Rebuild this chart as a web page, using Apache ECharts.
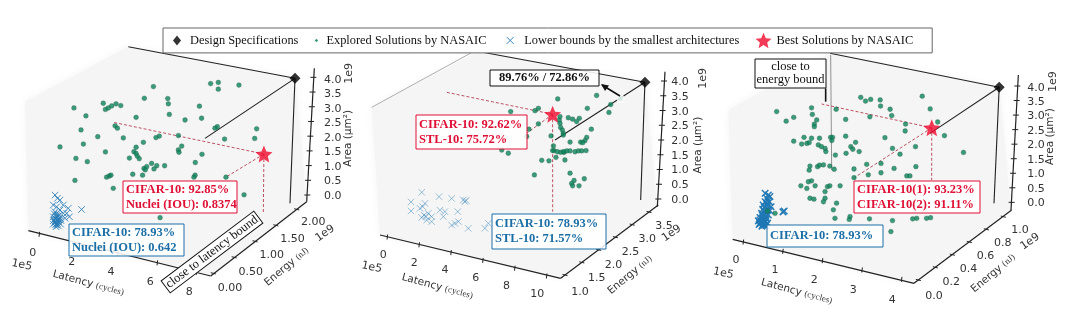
<!DOCTYPE html>
<html><head><meta charset="utf-8">
<script src="https://cdn.jsdelivr.net/npm/echarts@6/dist/echarts.min.js"></script>
<style>html,body{margin:0;padding:0;background:#fff}#c{width:1080px;height:314px;filter:blur(.4px)}</style>
</head><body><div id="c"></div>
<script>
// Values are [latency, area] as seen in the view plane of each 3-D plot (latency 1e5 cycles, area 1e9 um2)
const latencyTicksA=[0,2,4,6,8], energyTicksA=['0.00','0.50','1.00','1.50','2.00'];
const latencyTicksB=[0,2,4,6,8,10], energyTicksB=['1.0','1.5','2.0','2.5','3.0','3.5'];
const latencyTicksC=[0,1,2,3,4], energyTicksC=['0.0','0.2','0.4','0.6','0.8','1.0'];
const areaTicks=['0.0','0.5','1.0','1.5','2.0','2.5','3.0','3.5','4.0'];

const specA=[[13.0,4.0]], specB=[[16.10,3.98]], specC=[[6.45,3.97]];
const bestA=[[11.42,1.42]], bestB=[[10.33,2.89]], bestC=[[4.75,2.57]];

const exploredA=[[1.76,2.99],[2.37,2.72],[2.12,2.24],[1.05,1.66],[1.86,1.27],[2.44,1.16],[2.24,1.76],[2.97,2.01],[3.36,1.49],[1.81,.52],[3.25,3.15],[3.36,2.94],[3.51,2.99],[3.68,3.06],[3.90,3.13],[4.14,3.07],[3.85,2.38],[3.97,2.30],[4.27,1.97],[4.92,2.67],[5.80,3.72],[5.34,3.32],[6.53,3.31],[6.56,3.13],[6.61,2.77],[7.41,2.58],[8.14,3.05],[8.25,2.64],[8.71,3.82],[9.10,3.86],[9.10,3.63],[10.15,3.77],[9.05,2.35],[8.93,2.30],[11.05,2.28],[10.95,1.95],[9.42,1.93],[7.07,2.05],[6.10,2.03],[5.93,1.98],[5.29,1.82],[4.92,1.65],[7.24,1.69],[7.07,1.56],[7.10,1.48],[8.27,1.41],[7.93,1.13],[4.81,1.50],[4.92,1.44],[4.98,1.35],[4.58,1.28],[5.08,1.26],[5.71,1.10],[5.97,1.02],[5.32,.93],[5.46,.99],[6.37,1.02],[5.83,.91],[4.75,.73],[5.25,.70],[5.39,.88],[3.42,.63],[3.56,.67],[3.64,.70],[3.76,.25],[7.92,.70],[7.86,.63],[9.49,.63],[10.41,.03],[6.14,-.75]];
const lowerA=[[.80,.02],[.92,-.09],[1.05,-.15],[1.22,-.32],[1.47,-.43],[.71,-.32],[.88,-.38],[1.05,-.49],[.80,-.55],[1.22,-.60],[1.39,-.60],[.71,-.72],[.88,-.72],[1.05,-.77],[1.31,-.77],[.80,-.89],[.97,-.89],[.71,-.97],[.88,-1.0],[1.08,-.97],[2.15,-.47],[.75,-.83],[.92,-.81],[.85,-1.06],[1.02,-.66],[1.53,-.72],[.78,-.92],[.85,-.85],[.92,-.95],[.99,-.82],[.82,-.78],[.90,-.65],[.76,-.62],[.95,-.70],[1.1,-.85],[.72,-.85],[.83,-.98],[.95,-1.02]];

const exploredB=[[10.65,3.41],[13.08,3.53],[13.96,3.22],[12.5,3.09],[13.85,2.95],[9.44,3.09],[9.23,3.01],[7.71,2.98],[10.79,2.81],[10.75,2.69],[11.31,2.77],[11.58,2.72],[12.0,2.75],[11.83,2.64],[10.79,2.58],[10.83,2.44],[10.94,2.35],[11.0,2.24],[12.75,2.38],[9.44,2.56],[8.85,2.38],[8.71,2.13],[10.23,2.15],[11.0,2.18],[11.42,1.94],[12.08,1.94],[12.46,2.10],[12.35,1.99],[12.21,1.92],[10.42,1.65],[10.63,1.61],[10.83,1.59],[11.04,1.59],[11.21,1.64],[11.42,1.64],[11.73,1.61],[11.94,1.64],[12.15,1.64],[12.42,1.65],[10.38,1.81],[10.33,1.65],[7.56,1.56],[7.15,1.67],[9.65,1.32],[10.10,1.30],[10.54,1.42],[11.10,1.33],[9.19,.82],[11.42,.88],[12.31,.69],[11.67,.63],[11.52,.53],[11.58,.45],[11.98,.45],[14.58,3.42],[11.0,1.61]];
const lowerB=[[2.15,.23],[3.23,.08],[1.48,-.10],[2.35,-.15],[2.21,-.26],[1.48,-.41],[2.29,-.55],[2.56,-.49],[2.77,-.60],[2.15,-.63],[2.46,-.72],[2.77,-.77],[3.29,-.38],[3.60,-.43],[3.50,-.60],[4.40,-.43],[4.02,.02],[4.75,-.03],[4.85,-.09],[4.02,-.89],[4.23,-.83],[4.44,-.77],[5.06,-1.0],[6.10,-1.0],[6.31,-.83],[2.04,-.32],[4.92,-.05],[2.42,-.60]];
const markedB=[[14.58,3.42]];

const exploredC=[[.84,3.13],[1.08,2.80],[1.27,2.93],[1.72,3.26],[1.74,3.03],[1.85,2.84],[1.79,2.70],[1.79,2.61],[2.34,3.21],[2.58,2.86],[2.96,3.62],[3.08,3.49],[3.21,3.55],[3.45,3.53],[3.46,3.32],[3.19,2.95],[3.70,3.21],[3.74,2.99],[4.09,2.70],[4.08,2.46],[4.51,3.66],[4.71,3.22],[4.90,2.77],[5.07,2.30],[5.55,1.72],[1.27,2.11],[1.47,2.01],[1.53,2.24],[1.60,2.03],[1.66,2.06],[1.72,2.21],[1.92,2.21],[1.89,1.98],[1.97,1.92],[2.06,1.86],[2.08,1.75],[2.20,2.24],[2.25,2.24],[2.23,2.13],[2.58,2.28],[2.83,2.07],[2.71,1.92],[2.76,1.83],[2.59,1.69],[2.92,1.75],[3.57,2.23],[3.76,1.86],[3.95,1.66],[4.34,1.92],[2.32,1.63],[1.68,1.25],[1.66,1.11],[1.87,1.23],[1.92,1.28],[2.02,1.29],[2.18,1.25],[2.29,1.14],[2.79,1.15],[3.11,1.31],[3.47,1.34],[3.47,1.02],[3.80,1.17],[4.35,1.23],[2.79,.85],[3.15,.95],[4.12,.91],[4.20,.91],[1.64,.71],[1.72,.74],[1.45,.57],[1.60,.48],[1.81,.57],[2.12,.54],[2.18,.57],[2.44,.57],[2.06,.37],[1.68,.14],[1.78,.11],[2.06,.14],[2.02,.02],[2.35,-.03],[2.27,-.26],[2.31,-.55],[2.69,-.49],[2.67,-.59],[3.18,-.57],[3.76,-.63],[4.27,-.57],[4.37,-.55],[4.62,-.55],[4.72,-.53],[3.72,-1.01],[.80,-.38],[.61,-.30]];
const lowerC=[[.63,.25],[.59,.14],[.67,.20],[.55,.02],[.66,.02],[.50,-.09],[.61,-.13],[.70,-.15],[.49,-.24],[.59,-.26],[.67,-.29],[.46,-.38],[.55,-.40],[.63,-.44],[.42,-.52],[.50,-.55],[.59,-.57],[.38,-.64],[.46,-.67],[.55,-.69],[.61,-.72],[.40,-.76],[.49,-.78],[.57,-.80],[1.03,-.30],[.55,.31],[.42,-.61],[.50,-.72],[.44,-.70],[.52,-.62],[.57,-.48],[.48,-.45],[.53,-.30],[.60,-.05],[.53,-.18],[.42,-.72],[.47,-.82],[.53,-.78],[1.0,-.33],[.62,.05]];

const NAMES={spec:'Design Specifications',exp:'Explored Solutions by NASAIC',low:'Lower bounds by the smallest architectures',best:'Best Solutions by NASAIC'};
const GREEN='#0b8459',BLUE='#1f77b4',RED='#f00a2e',BLUEBOX='#1c6fa6',REDBOX='#e00f35';
const SERIF='"Liberation Serif"',SANS='"DejaVu Sans"';
const STAR='path://M10 0L12.9 6.9L20 7.6L14.6 12.2L16.2 19.5L10 15.5L3.8 19.5L5.4 12.2L0 7.6L7.1 6.9Z';
const CROSS='path://M0 0L10 10M10 0L0 10';

// layout: all furniture coordinates below are in the panel's local units (3 per screen pixel; top at y=20)
const panels=[
 {off:0,zx0:118,k:59,zy0:527,ky:88,spec:specA,best:bestA,explored:exploredA,lower:lowerA,lowerAlpha:.8,crossW:1.0,
  hex:[[85,632],[75,245],[385,80],[885,175],[920,545],[632,768]],
  spine:[[385,80],[615,355],[870,550]],dash:[[340,307],[680,470],[790,578]],
  latT:latencyTicksA,latFrom:[118,643],latTo:[590,757],latLFrom:[98,698],latLTo:[568,815],latLine:[[85,632],[632,768]],
  enT:energyTicksA,enFrom:[640,760],enTo:[890,568],enLFrom:[690,805],enLTo:[940,607],enLine:[[632,768],[920,545]],
  arFrom:[922,525],arTo:[940,172],arLFrom:[998,528],arLTo:[998,180],arLine:[[920,545],[943,145]],
  e5:[65,735],e9a:[1048,160],e9e:[975,640],titleL:[265,790],titleE:[860,740],titleA:[1045,355]},
 {off:350,zx0:112,k:48,zy0:537,ky:88,spec:specB,best:bestB,explored:exploredB,lower:lowerB,lowerAlpha:.55,crossW:.8,
  hex:[[90,645],[65,262],[385,95],[885,187],[922,560],[632,775]],
  spine:[[390,95],[615,360],[872,540]],dash:[[290,217],[530,340],[608,575]],
  latT:latencyTicksB,latFrom:[112,651],latTo:[590,768],latLFrom:[100,705],latLTo:[562,822],latLine:[[90,645],[632,775]],
  enT:energyTicksB,enFrom:[645,765],enTo:[897,576],enLFrom:[690,815],enLTo:[942,618],enLine:[[632,775],[925,555]],
  arFrom:[925,537],arTo:[942,183],arLFrom:[990,540],arLTo:[990,187],arLine:[[922,560],[945,155]],
  e5:[65,742],e9a:[1060,175],e9e:[965,640],titleL:[262,800],titleE:[840,765],titleA:[1045,375],
  edge:[[65,262],[370,95]]},
 {off:710,zx0:100,k:119,zy0:547,ky:87,spec:specC,best:bestC,explored:exploredC,lower:lowerC,lowerAlpha:.95,crossW:1.5,
  hex:[[68,658],[55,270],[360,100],[868,202],[903,570],[612,790]],
  spine:[[360,100],[660,340],[852,550]],dash:[[335,252],[430,475],[665,480]],
  latT:latencyTicksC,latFrom:[100,666],latTo:[575,778],latLFrom:[78,720],latLTo:[547,840],latLine:[[68,658],[612,790]],
  enT:energyTicksC,enFrom:[625,780],enTo:[880,590],enLFrom:[672,827],enLTo:[930,630],enLine:[[612,790],[905,570]],
  arFrom:[905,547],arTo:[922,198],arLFrom:[978,550],arLTo:[978,203],arLine:[[903,570],[925,165]],
  e5:[40,760],e9a:[1030,185],e9e:[960,665],titleL:[260,815],titleE:[850,760],titleA:[1020,350],
  edge2:[[362,105],[365,450]],stub:[[347,205],[347,245]]}
];
// annotation boxes in screen units
const notes=[
 {rect:[123,181,114,32],color:REDBOX,lines:['CIFAR-10: 92.85%','Nuclei (IOU): 0.8374']},
 {rect:[69,224,115,32],color:BLUEBOX,lines:['CIFAR-10: 78.93%','Nuclei (IOU): 0.642']},
 {rect:[416,115,111,34],color:REDBOX,lines:['CIFAR-10: 92.62%','STL-10: 75.72%']},
 {rect:[492,214,114,35],color:BLUEBOX,lines:['CIFAR-10: 78.93%','STL-10: 71.57%']},
 {rect:[490,70,109,16],color:'#111',lines:['89.76% / 72.86%'],center:true},
 {rect:[854,181,126,32],color:REDBOX,lines:['CIFAR-10(1): 93.23%','CIFAR-10(2): 91.11%']},
 {rect:[767,225,116,22],color:BLUEBOX,lines:['CIFAR-10: 78.93%']},
 {rect:[755,59,71,29],color:'#111',lines:['close to','energy bound'],center:true,plain:true}
];

const P=(p,z)=>[p.off+z[0]/3,20+z[1]/3];
const lerp=(a,b,t)=>[a[0]+(b[0]-a[0])*t,a[1]+(b[1]-a[1])*t];
const seg=(a,b,stroke,w,dash)=>({type:'line',shape:{x1:a[0],y1:a[1],x2:b[0],y2:b[1]},style:{stroke,lineWidth:w,lineDash:dash||null}});
const txt=(p,s,font,fill,rot,align)=>({type:'text',x:p[0],y:p[1],rotation:(rot||0)*Math.PI/180,style:{text:s,font,fill,align:align||'center',verticalAlign:'middle'}});
const dataPx=(p,v)=>P(p,[p.zx0+p.k*v[0],p.zy0-p.ky*v[1]]);

function furniture(p){
 const c=[];
 c.push({type:'polygon',shape:{points:p.hex.map(z=>P(p,z))},style:{fill:'#f5f5f5',shadowBlur:10,shadowColor:'#f5f5f5'}});
 const tickFont='11px '+SANS,tc='#333';
 const axisGroup=(line,from,to,lf,lt,labels,dir)=>{
  c.push(seg(P(p,line[0]),P(p,line[1]),'#222',1.2));
  labels.forEach((s,i)=>{const t=i/(labels.length-1);
    const a=P(p,lerp(from,to,t));
    c.push(seg([a[0]-dir[0],a[1]-dir[1]],[a[0]+dir[0],a[1]+dir[1]],'#222',1));
    c.push(txt(P(p,lerp(lf,lt,t)),String(s),tickFont,tc));});
 };
 axisGroup(p.latLine,p.latFrom,p.latTo,p.latLFrom,p.latLTo,p.latT,[-.3,2.5]);
 axisGroup(p.enLine,p.enFrom,p.enTo,p.enLFrom,p.enLTo,p.enT,[2.5,.6]);
 axisGroup(p.arLine,p.arFrom,p.arTo,p.arLFrom,p.arLTo,areaTicks,[3,0]);
 // black specification guide lines, from the design specification point
 const s=dataPx(p,p.spec[0]);
 p.spine.forEach(z=>c.push(seg(s,P(p,z),'#222',1.1)));
 if(p.edge)c.push(seg(P(p,p.edge[0]),P(p,p.edge[1]),'#999',.8));
 if(p.edge2)c.push(seg(P(p,p.edge2[0]),P(p,p.edge2[1]),'#777',.8));
 if(p.stub)c.push(seg(P(p,p.stub[0]),P(p,p.stub[1]),'#111',1.6));
 // red dashed drop lines, from the best solution
 const b=dataPx(p,p.best[0]);
 p.dash.forEach(z=>c.push(seg(b,P(p,z),'#b5404f',.9,[3,2])));
 c.push(txt(P(p,p.e5),'1e5',tickFont,tc,-12));
 c.push(txt(P(p,p.e9a),'1e9',tickFont,tc,90));
 c.push(txt(P(p,p.e9e),'1e9',tickFont,tc,35));
 c.push({type:'text',x:P(p,p.titleL)[0],y:P(p,p.titleL)[1],rotation:-15*Math.PI/180,style:{text:'{a|Latency} {b|(cycles)}',align:'center',verticalAlign:'middle',rich:{a:{font:'10.5px '+SANS,fill:'#333'},b:{font:'9px '+SERIF,fill:'#333'}}}});
 c.push({type:'text',x:P(p,p.titleE)[0],y:P(p,p.titleE)[1],rotation:40*Math.PI/180,style:{text:'{a|Energy} {b|(nJ)}',align:'center',verticalAlign:'middle',rich:{a:{font:'10.5px '+SANS,fill:'#333'},b:{font:'9px '+SERIF,fill:'#333'}}}});
 c.push(txt(P(p,p.titleA),'Area (\u03bcm\u00b2)','10.5px '+SANS,'#333',90));
 return {type:'group',children:c};
}
function noteShapes(){
 const c=[];
 notes.forEach(n=>{const [x,y,w,h]=n.rect;
  c.push({type:'rect',shape:{x,y,width:w,height:h},style:{fill:'rgba(255,255,255,.88)',stroke:n.color,lineWidth:1}});
  const lh=n.plain?13:15,y0=y+h/2-(n.lines.length-1)*lh/2;
  n.lines.forEach((l,i)=>c.push({type:'text',x:n.center?x+w/2:x+3,y:y0+i*lh,style:{text:l,font:(n.plain?'':'bold ')+'12.5px '+SERIF,fill:n.color,align:n.center?'center':'left',verticalAlign:'middle'}}));
 });
 // rotated "close to latency bound" tag
 c.push({type:'group',x:212,y:252,rotation:37*Math.PI/180,children:[
  {type:'rect',shape:{x:-58,y:-7.5,width:116,height:15},style:{fill:'#fff',stroke:'#111',lineWidth:1}},
  {type:'text',style:{text:'close to latency bound',x:0,y:0,font:'12.5px '+SERIF,fill:'#111',align:'center',verticalAlign:'middle'}}]});
 // arrow to the marked solution
 const a=[620,96],b=[602,85];
 c.push(seg(a,b,'#111',1.6));
 c.push({type:'polygon',shape:{points:[[601,84],[609,85.5],[605,91]]},style:{fill:'#111'}});
 return {type:'group',children:c};
}

const grids=[],xAxes=[],yAxes=[],series=[];
series.push({type:'custom',coordinateSystem:'none',silent:true,z:1,data:panels.map((_,i)=>i),renderItem:(x,api)=>furniture(panels[api.value(0)]),encode:{}});
panels.forEach((p,i)=>{
 grids.push({left:p.off,top:0,width:360,height:314,show:false});
 xAxes.push({type:'value',gridIndex:i,show:false,min:-p.zx0/p.k,max:(1080-p.zx0)/p.k});
 yAxes.push({type:'value',gridIndex:i,show:false,min:(p.zy0-882)/p.ky,max:(p.zy0+60)/p.ky});
 const common={xAxisIndex:i,yAxisIndex:i,silent:true,animation:false};
 series.push({...common,type:'scatter',name:NAMES.low,z:3,data:p.lower,symbol:CROSS,symbolSize:6.5,itemStyle:{color:'transparent',borderColor:BLUE,borderWidth:p.crossW,opacity:p.lowerAlpha}});
 series.push({...common,type:'scatter',name:NAMES.exp,z:4,data:p.explored,symbol:'circle',symbolSize:4.8,itemStyle:{color:GREEN,borderColor:'#2a5a4c',borderWidth:.4}});
 series.push({...common,type:'scatter',name:NAMES.spec,z:5,data:p.spec,symbol:'diamond',symbolSize:[11,11],itemStyle:{color:'#000'}});
 series.push({...common,type:'scatter',name:NAMES.best,z:6,data:p.best,symbol:STAR,symbolSize:17,itemStyle:{color:RED}});
});
series.push({type:'scatter',xAxisIndex:1,yAxisIndex:1,silent:true,z:5,data:markedB,symbol:'emptyCircle',symbolSize:8,itemStyle:{color:'transparent',borderColor:'#555',borderWidth:.8}});
series.push({type:'custom',coordinateSystem:'none',silent:true,z:8,data:[0],renderItem:()=>noteShapes(),encode:{}});

const pad=(inner)=>'path://M0 0M16 16'+inner;
const chart=echarts.init(document.getElementById('c'),null,{renderer:'canvas'});
chart.setOption({animation:false,backgroundColor:'#fff',grid:grids,xAxis:xAxes,yAxis:yAxes,series,
 legend:{left:163,top:28,z:20,itemWidth:16,itemHeight:16,itemGap:7,padding:[4,19,4,6],backgroundColor:'#fff',borderColor:'#666',borderWidth:1,selectedMode:false,
  textStyle:{fontFamily:SERIF,fontSize:12.4,color:'#111'},
  formatter:n=>(n===NAMES.exp||n===NAMES.low)?n+'\u00a0\u00a0\u00a0':n,
  data:[
   {name:NAMES.spec,icon:pad('M8 3L12 8L8 13L4 8Z'),itemStyle:{color:'#000',borderWidth:0}},
   {name:NAMES.exp,icon:pad('M11 6.2L12.8 8L11 9.8L9.2 8Z'),itemStyle:{color:GREEN,borderWidth:0}},
   {name:NAMES.low,icon:pad('M3.5 4.5L10.5 11.5M10.5 4.5L3.5 11.5'),itemStyle:{color:'transparent',borderColor:BLUE,borderWidth:.9,opacity:1}},
   {name:NAMES.best,icon:STAR,itemStyle:{color:RED,borderWidth:0}}
  ]}
});
</script></body></html>
